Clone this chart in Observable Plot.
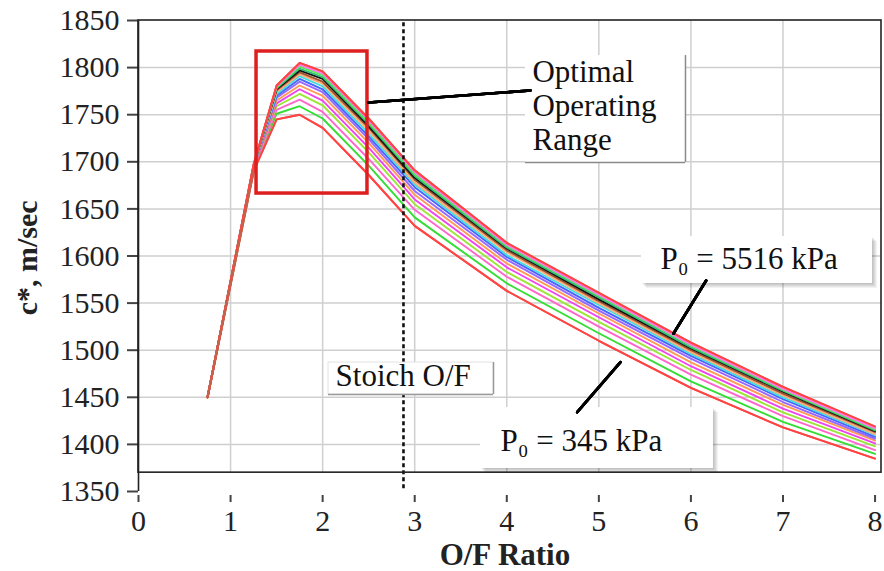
<!DOCTYPE html>
<html>
<head>
<meta charset="utf-8">
<script src="https://cdn.jsdelivr.net/npm/d3@7"></script>
<script src="https://cdn.jsdelivr.net/npm/@observablehq/plot@0.6"></script>
<style>
  html, body { margin: 0; padding: 0; background: #fff; }
  #chart svg, #chart svg text { font-family: "Liberation Serif", "DejaVu Serif", serif !important; }
</style>
</head>
<body>
<div id="chart"></div>
<script>
// O/F ratio sample points
const ofRatio = [0.75, 1.25, 1.5, 1.75, 2, 2.5, 3, 4, 5, 6, 7, 8];

// chamber pressures, kPa (345 ... 5516)
const pressures = [345, 690, 1034, 1379, 1724, 2069, 2413, 2758, 3103, 3447, 3792, 4137, 4482, 4826, 5171, 5516];

// c* (m/sec) per chamber pressure
const c345  = [1450, 1690, 1745, 1750, 1736, 1686, 1632, 1563, 1510, 1460, 1418, 1385];
const c690  = [1450, 1691, 1751, 1759, 1746, 1696, 1641, 1571, 1518, 1467, 1424, 1390];
const c1034 = [1450, 1692, 1755, 1766, 1753, 1703, 1649, 1578, 1525, 1474, 1430, 1394];
const c1379 = [1450, 1693, 1759, 1772, 1760, 1710, 1655, 1583, 1530, 1479, 1434, 1398];
const c1724 = [1450, 1693, 1762, 1777, 1765, 1715, 1660, 1588, 1535, 1483, 1438, 1401];
const c2069 = [1450, 1694, 1765, 1781, 1770, 1720, 1665, 1592, 1539, 1487, 1442, 1404];
const c2413 = [1450, 1694, 1768, 1785, 1774, 1724, 1669, 1596, 1542, 1491, 1445, 1406];
const c2758 = [1450, 1695, 1770, 1788, 1777, 1727, 1673, 1599, 1545, 1494, 1448, 1408];
const c3103 = [1450, 1695, 1772, 1791, 1780, 1730, 1676, 1601, 1548, 1496, 1450, 1410];
const c3447 = [1450, 1695, 1774, 1793, 1783, 1733, 1678, 1604, 1550, 1498, 1452, 1411];
const c3792 = [1450, 1696, 1776, 1795, 1785, 1736, 1681, 1606, 1552, 1500, 1454, 1413];
const c4137 = [1450, 1696, 1777, 1797, 1788, 1738, 1683, 1608, 1554, 1502, 1456, 1414];
const c4482 = [1450, 1696, 1778, 1799, 1790, 1740, 1685, 1609, 1556, 1503, 1457, 1415];
const c4826 = [1450, 1697, 1779, 1801, 1792, 1742, 1687, 1611, 1558, 1505, 1458, 1416];
const c5171 = [1450, 1697, 1780, 1803, 1794, 1744, 1689, 1612, 1559, 1506, 1459, 1417];
const c5516 = [1450, 1697, 1781, 1805, 1796, 1746, 1691, 1614, 1561, 1508, 1461, 1419];

const seriesList = [c345, c690, c1034, c1379, c1724, c2069, c2413, c2758,
                    c3103, c3447, c3792, c4137, c4482, c4826, c5171, c5516];

const seriesColors = ["#ff4d4d", "#33dd33", "#ff66cc", "#99e633", "#ee44ee", "#ff9955",
                      "#9966ff", "#4466ff", "#44dddd", "#ffaa77", "#a0522d", "#111111",
                      "#33bb77", "#55ee55", "#ff77ee", "#ff4444"];

// tick labels
const xTicks = [0, 1, 2, 3, 4, 5, 6, 7, 8];
const yTicks = [1350, 1400, 1450, 1500, 1550, 1600, 1650, 1700, 1750, 1800, 1850];
const xGrid = [1, 2, 3, 4, 5, 6, 7];
const yGrid = [1400, 1450, 1500, 1550, 1600, 1650, 1700, 1750, 1800];

// annotation texts
const stoichOF = 2.878;
const labelOptimal = ["Optimal", "Operating", "Range"];
const labelStoich = "Stoich O/F";
const labelHigh = "P\u2080 = 5516 kPa";
const labelLow = "P\u2080 = 345 kPa";
const xLabel = "O/F Ratio";
const yLabel = "c*, m/sec";

const rows = [];
seriesList.forEach((s, i) => {
  s.forEach((v, j) => rows.push({p: pressures[i], of: ofRatio[j], c: v}));
});

const XMAX = 8.07;
const font = "Liberation Serif, DejaVu Serif, serif";

const boxOpt = {x1: 4.203, x2: 5.941, y1: 1699.3, y2: 1812.8};
const boxSto = {x1: 2.064, x2: 3.856, y1: 1453.0, y2: 1486.9};
const boxHi = {x1: 5.463, x2: 7.972, y1: 1570.8, y2: 1620.7};
const boxLo = {x1: 3.715, x2: 6.245, y1: 1374.4, y2: 1439.2};

const arrows = [
  {x1: 4.258, y1: 1775.7, x2: 2.50, y2: 1762.9, hl: 18},
  {x1: 6.166, y1: 1574.0, x2: 5.811, y2: 1517.7, hl: 15},
  {x1: 4.765, y1: 1434.2, x2: 5.235, y2: 1487.3, hl: 15}
];

function shadow(box) {
  return [1, 2, 3, 4, 5].map(d => Plot.rect([box], {
    x1: "x1", x2: "x2", y1: "y1", y2: "y2", fill: "#000", fillOpacity: 0.05, dx: d, dy: d
  }));
}
function halfBorder(box, color, w) {
  return [
    Plot.ruleX([box], {x: "x2", y1: "y1", y2: "y2", stroke: color, strokeWidth: w}),
    Plot.ruleY([box], {y: "y1", x1: "x1", x2: "x2", stroke: color, strokeWidth: w})
  ];
}
function arrowMarks() {
  return [10, 20, 30, 40, 46].map(a => Plot.arrow(arrows, {
    x1: "x1", y1: "y1", x2: "x2", y2: "y2", headLength: d => d.hl, headAngle: a,
    stroke: "#000", strokeWidth: 2.6
  }));
}
const txt = {textAnchor: "start", lineAnchor: "bottom", fontSize: 31, fill: "#111", fontFamily: font};

const chart = Plot.plot({
  width: 884,
  height: 571,
  marginLeft: 138,
  marginRight: 3,
  marginTop: 20,
  marginBottom: 80,
  style: {fontFamily: font, fontSize: "30px", color: "#222", background: "#fff"},
  x: {domain: [0, XMAX], axis: null},
  y: {domain: [1350, 1850], axis: null},
  color: {type: "ordinal", domain: pressures, range: seriesColors},
  marks: [
    Plot.ruleX(xGrid, {y1: 1370, y2: 1850, stroke: "#cfcfcf", strokeWidth: 1.5}),
    Plot.ruleY(yGrid, {x1: 0, x2: XMAX, stroke: "#cfcfcf", strokeWidth: 1.5}),
    Plot.axisY({ticks: yTicks, tickSize: 11, tickPadding: 8, fontSize: 30, fontFamily: font, stroke: "#444", strokeWidth: 2, label: null, tickFormat: d => String(d)}),
    Plot.axisX({ticks: xTicks, tickSize: 7, dy: 4, tickPadding: 7, fontSize: 30, fontFamily: font, stroke: "#444", strokeWidth: 2, label: null, tickFormat: d => String(d)}),
    Plot.ruleX([0], {y1: 1350, y2: 1850, stroke: "#222", strokeWidth: 1.6}),
    Plot.line(rows, {x: "of", y: "c", z: "p", stroke: "p", strokeWidth: 1.9}),
    Plot.line(rows.filter(d => d.p === 345 || d.p === 5516), {x: "of", y: "c", z: "p", stroke: "#ff4444", strokeWidth: 1.9}),
    Plot.line(rows.filter(d => d.of <= 1.25 && d.p === 345), {x: "of", y: "c", stroke: "#c8604a", strokeWidth: 2.4}),
    Plot.ruleX([stoichOF], {y1: 1353, y2: 1850, stroke: "#111", strokeWidth: 2.6, strokeDasharray: "4,3"}),
    Plot.rect([{x1: 0, x2: XMAX, y1: 1370, y2: 1850}], {x1: "x1", x2: "x2", y1: "y1", y2: "y2", fill: "none", stroke: "#222", strokeWidth: 1.6}),
    Plot.rect([{x1: 1.282, x2: 2.487, y1: 1666.3, y2: 1817.1}], {x1: "x1", x2: "x2", y1: "y1", y2: "y2", fill: "none", stroke: "#dd1f1f", strokeWidth: 3.5}),
    Plot.rect([boxOpt], {x1: "x1", x2: "x2", y1: "y1", y2: "y2", fill: "#fff"}),
    ...halfBorder(boxOpt, "#8a8a8a", 1.5),
    Plot.rect([boxSto], {x1: "x1", x2: "x2", y1: "y1", y2: "y2", fill: "#fff", stroke: "#e2e2e2", strokeWidth: 1}),
    ...halfBorder(boxSto, "#9a9a9a", 1.5),
    ...shadow(boxHi),
    Plot.rect([boxHi], {x1: "x1", x2: "x2", y1: "y1", y2: "y2", fill: "#fff"}),
    ...shadow(boxLo),
    Plot.rect([boxLo], {x1: "x1", x2: "x2", y1: "y1", y2: "y2", fill: "#fff"}),
    ...arrowMarks(),
    Plot.text(labelOptimal, {...txt, x: 4.279, y: (d, i) => [1784.2, 1748.1, 1712.0][i], text: d => d}),
    Plot.text([labelStoich], {...txt, x: 2.14, y: 1462.5, text: d => d}),
    Plot.text([labelHigh], {...txt, x: 5.67, y: 1586.7, text: d => d}),
    Plot.text([labelLow], {...txt, x: 3.932, y: 1393.5, text: d => d}),
    Plot.text([xLabel], {x: 3.98, frameAnchor: "bottom", dy: 73, text: d => d, lineAnchor: "bottom", fontSize: 31, fontWeight: "bold", fontFamily: font, fill: "#222"}),
    Plot.text([yLabel], {x: 0, y: 1598, dx: -111, rotate: -90, text: d => d, textAnchor: "middle", lineAnchor: "middle", fontSize: 30, fontWeight: "bold", fontFamily: font, fill: "#222"})
  ]
});

document.getElementById("chart").appendChild(chart);
</script>
</body>
</html>
